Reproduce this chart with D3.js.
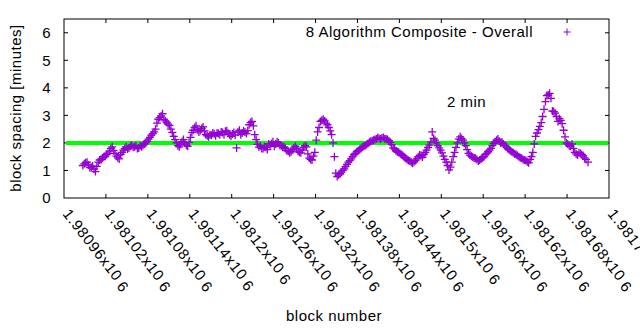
<!DOCTYPE html>
<html>
<head>
<meta charset="utf-8">
<script src="https://cdn.jsdelivr.net/npm/d3@7"></script>
<style>
  body { margin: 0; background: #fff; }
  svg { display: block; font-family: "Liberation Sans", Arial, sans-serif; }
  .tick-text { font-size: 15px; letter-spacing: 0.8px; fill: #000; }
  .label { font-size: 15px; letter-spacing: 0.5px; fill: #000; }
</style>
</head>
<body>
<div id="js_chart"></div>
<script>

//////////////////////////////////////////////////////////////////////////////
// Data
//

var seriesName = "8 Algorithm Composite - Overall";
var targetMinutes = 2;
var targetLabel = "2 min";

// every 4th block
var blockNumbers = [
  1980987, 1980991, 1980995, 1980999, 1981003, 1981007, 1981011, 1981015, 1981019, 1981023,
  1981027, 1981031, 1981035, 1981039, 1981043, 1981047, 1981051, 1981055, 1981059, 1981063,
  1981067, 1981071, 1981075, 1981079, 1981083, 1981087, 1981091, 1981095, 1981099, 1981103,
  1981107, 1981111, 1981115, 1981119, 1981123, 1981127, 1981131, 1981135, 1981139, 1981143,
  1981147, 1981151, 1981155, 1981159, 1981163, 1981167, 1981171, 1981175, 1981179, 1981183,
  1981187, 1981191, 1981195, 1981199, 1981203, 1981207, 1981211, 1981215, 1981219, 1981223,
  1981227, 1981231, 1981235, 1981239, 1981243, 1981247, 1981251, 1981255, 1981259, 1981263,
  1981267, 1981271, 1981275, 1981279, 1981283, 1981287, 1981291, 1981295, 1981299, 1981303,
  1981307, 1981311, 1981315, 1981319, 1981323, 1981327, 1981331, 1981335, 1981339, 1981343,
  1981347, 1981351, 1981355, 1981359, 1981363, 1981367, 1981371, 1981375, 1981379, 1981383,
  1981387, 1981391, 1981395, 1981399, 1981403, 1981407, 1981411, 1981415, 1981419, 1981423,
  1981427, 1981431, 1981435, 1981439, 1981443, 1981447, 1981451, 1981455, 1981459, 1981463,
  1981467, 1981471, 1981475, 1981479, 1981483, 1981487, 1981491, 1981495, 1981499, 1981503,
  1981507, 1981511, 1981515, 1981519, 1981523, 1981527, 1981531, 1981535, 1981539, 1981543,
  1981547, 1981551, 1981555, 1981559, 1981563, 1981567, 1981571, 1981575, 1981579, 1981583,
  1981587, 1981591, 1981595, 1981599, 1981603, 1981607, 1981611, 1981615, 1981619, 1981623,
  1981627, 1981631, 1981635, 1981639, 1981643, 1981647, 1981651, 1981655, 1981659, 1981663,
  1981667, 1981671, 1981675, 1981679, 1981683, 1981687, 1981691, 1981695, 1981699, 1981703,
  1981707, 1981710
];

var spacingMinutes = [
  1.18, 1.28, 1.20, 1.12, 1.05, 1.15, 1.38, 1.45, 1.52, 1.62,
  1.80, 1.72, 1.52, 1.42, 1.66, 1.80, 1.78, 1.88, 1.84, 1.90,
  1.82, 1.86, 1.96, 2.06, 2.20, 2.34, 2.50, 2.86, 2.98, 2.85,
  2.74, 2.64, 2.38, 2.12, 1.90, 1.95, 2.12, 1.92, 2.02, 2.38,
  2.56, 2.48, 2.45, 2.58, 2.30, 2.22, 2.28, 2.33, 2.36, 2.30,
  2.38, 2.42, 2.35, 2.24, 2.38, 1.82, 2.46, 2.36, 2.40, 2.45,
  2.74, 2.62, 2.12, 1.85, 1.80, 1.86, 1.76, 1.90, 2.04, 1.96,
  2.00, 1.90, 1.86, 1.72, 1.64, 1.76, 1.88, 1.70, 1.64, 1.84,
  1.86, 1.45, 1.38, 1.66, 2.40, 2.78, 2.86, 2.72, 2.56, 2.30,
  1.50, 0.78, 0.88, 1.00, 1.14, 1.30, 1.42, 1.58, 1.68, 1.76,
  1.84, 1.90, 1.98, 2.06, 2.10, 2.14, 2.16, 2.18, 2.15, 2.12,
  2.02, 1.82, 1.72, 1.66, 1.58, 1.48, 1.40, 1.34, 1.26, 1.36,
  1.50, 1.54, 1.58, 1.74, 1.92, 2.40, 2.10, 1.90, 1.74, 1.52,
  1.30, 1.02, 1.30, 1.66, 2.00, 2.22, 2.10, 1.90, 1.62, 1.52,
  1.46, 1.40, 1.38, 1.46, 1.58, 1.68, 1.80, 1.98, 2.10, 2.06,
  2.02, 1.90, 1.80, 1.72, 1.64, 1.58, 1.50, 1.44, 1.38, 1.32,
  1.40, 1.66, 2.24, 2.48, 2.74, 3.22, 3.72, 3.80, 3.16, 3.08,
  2.78, 2.82, 2.46, 2.00, 1.90, 1.96, 1.66, 1.56, 1.62, 1.54,
  1.40, 1.30
];

// the blocks in between
var blockNumbers2 = [
  1980989, 1980993, 1980997, 1981001, 1981005, 1981009, 1981013, 1981017, 1981021, 1981025,
  1981029, 1981033, 1981037, 1981041, 1981045, 1981049, 1981053, 1981057, 1981061, 1981065,
  1981069, 1981073, 1981077, 1981081, 1981085, 1981089, 1981093, 1981097, 1981101, 1981105,
  1981109, 1981113, 1981117, 1981121, 1981125, 1981129, 1981133, 1981137, 1981141, 1981145,
  1981149, 1981153, 1981157, 1981161, 1981165, 1981169, 1981173, 1981177, 1981181, 1981185,
  1981189, 1981193, 1981197, 1981201, 1981205, 1981209, 1981213, 1981217, 1981221, 1981225,
  1981229, 1981233, 1981237, 1981241, 1981245, 1981249, 1981253, 1981257, 1981261, 1981265,
  1981269, 1981273, 1981277, 1981281, 1981285, 1981289, 1981293, 1981297, 1981301, 1981305,
  1981309, 1981313, 1981317, 1981321, 1981325, 1981329, 1981333, 1981337, 1981341, 1981345,
  1981349, 1981353, 1981357, 1981361, 1981365, 1981369, 1981373, 1981377, 1981381, 1981385,
  1981389, 1981393, 1981397, 1981401, 1981405, 1981409, 1981413, 1981417, 1981421, 1981425,
  1981429, 1981433, 1981437, 1981441, 1981445, 1981449, 1981453, 1981457, 1981461, 1981465,
  1981469, 1981473, 1981477, 1981481, 1981485, 1981489, 1981493, 1981497, 1981501, 1981505,
  1981509, 1981513, 1981517, 1981521, 1981525, 1981529, 1981533, 1981537, 1981541, 1981545,
  1981549, 1981553, 1981557, 1981561, 1981565, 1981569, 1981573, 1981577, 1981581, 1981585,
  1981589, 1981593, 1981597, 1981601, 1981605, 1981609, 1981613, 1981617, 1981621, 1981625,
  1981629, 1981633, 1981637, 1981641, 1981645, 1981649, 1981653, 1981657, 1981661, 1981665,
  1981669, 1981673, 1981677, 1981681, 1981685, 1981689, 1981693, 1981697, 1981701, 1981705
];

var spacingMinutes2 = [
  1.24, 1.30, 1.10, 1.16, 0.96, 1.30, 1.40, 1.50, 1.58, 1.70,
  1.86, 1.62, 1.46, 1.58, 1.74, 1.86, 1.82, 1.92, 1.86, 1.80,
  1.90, 1.92, 2.00, 2.14, 2.28, 2.40, 2.72, 2.92, 3.06, 2.80,
  2.68, 2.50, 2.24, 2.00, 1.86, 2.05, 2.00, 1.88, 2.20, 2.46,
  2.62, 2.40, 2.52, 2.44, 2.26, 2.30, 2.36, 2.26, 2.34, 2.40,
  2.30, 2.44, 2.30, 2.32, 2.28, 2.40, 2.30, 2.44, 2.34, 2.66,
  2.78, 2.30, 1.95, 1.90, 1.80, 1.84, 1.96, 1.98, 1.88, 2.04,
  1.92, 1.84, 1.80, 1.70, 1.68, 1.82, 1.80, 1.66, 1.74, 1.90,
  1.60, 1.40, 1.52, 2.10, 2.56, 2.82, 2.80, 2.66, 2.44, 2.00,
  0.90, 0.84, 0.94, 1.06, 1.22, 1.36, 1.50, 1.62, 1.72, 1.80,
  1.88, 1.94, 2.02, 2.08, 2.12, 2.20, 2.14, 2.20, 2.14, 2.08,
  1.94, 1.78, 1.68, 1.62, 1.54, 1.44, 1.36, 1.30, 1.32, 1.42,
  1.56, 1.48, 1.66, 1.84, 2.04, 2.16, 2.00, 1.82, 1.64, 1.40,
  1.18, 1.12, 1.50, 1.84, 2.14, 2.16, 2.00, 1.76, 1.56, 1.48,
  1.44, 1.34, 1.42, 1.50, 1.62, 1.74, 1.90, 2.04, 2.14, 2.00,
  1.96, 1.86, 1.76, 1.68, 1.60, 1.54, 1.46, 1.40, 1.36, 1.28,
  1.50, 1.96, 2.36, 2.60, 2.96, 3.50, 3.74, 3.62, 3.14, 2.96,
  2.88, 2.70, 2.22, 1.96, 1.88, 1.80, 1.60, 1.64, 1.58, 1.46
];

var xTickValues = [1980960, 1981020, 1981080, 1981140, 1981200, 1981260, 1981320,
                   1981380, 1981440, 1981500, 1981560, 1981620, 1981680, 1981740];
var xTickLabels = ["1.98096", "1.98102", "1.98108", "1.98114", "1.9812", "1.98126", "1.98132",
                   "1.98138", "1.98144", "1.9815", "1.98156", "1.98162", "1.98168", "1.98174"];
var yTickValues = [0, 1, 2, 3, 4, 5, 6];

//////////////////////////////////////////////////////////////////////////////
// Drawing
//

var width = 640, height = 330;
// plot box (note: "top" is taken by window.top, so use plotTop)
var plotLeft = 64, plotRight = 609, plotTop = 19, plotBottom = 198;
var tickLen = 4;
var pointColor = "#9400d3";

var svg = d3.select("#js_chart").append("svg")
  .attr("width", width)
  .attr("height", height);

var x = d3.scaleLinear().domain([1980960, 1981740]).range([plotLeft, plotRight]);
var y = d3.scaleLinear().domain([0, 6.5]).range([plotBottom, plotTop]);

// ticks, mirrored on all four sides like gnuplot does
xTickValues.forEach(function (v, i) {
    var px = x(v);
    if (i > 0 && i < xTickValues.length - 1) {
        svg.append("line").attr("x1", px).attr("x2", px)
          .attr("y1", plotBottom).attr("y2", plotBottom - tickLen).attr("stroke", "#000");
        svg.append("line").attr("x1", px).attr("x2", px)
          .attr("y1", plotTop).attr("y2", plotTop + tickLen).attr("stroke", "#000");
    }
    var t = svg.append("text")
      .attr("class", "tick-text")
      .attr("transform", "translate(" + (px - 2) + "," + (plotBottom + 16) + ") rotate(52)");
    t.append("tspan").text(xTickLabels[i] + "x10");
    t.append("tspan").attr("dx", 4).attr("dy", 2).text("6");
});

yTickValues.forEach(function (v) {
    var py = y(v);
    if (v > 0) {
        svg.append("line").attr("x1", plotLeft).attr("x2", plotLeft + tickLen)
          .attr("y1", py).attr("y2", py).attr("stroke", "#000");
        svg.append("line").attr("x1", plotRight).attr("x2", plotRight - tickLen)
          .attr("y1", py).attr("y2", py).attr("stroke", "#000");
    }
    svg.append("text")
      .attr("class", "label")
      .attr("x", plotLeft - 13)
      .attr("y", py)
      .attr("dy", "0.36em")
      .attr("text-anchor", "end")
      .text(v);
});

// 2 minute target line
svg.append("line")
  .attr("x1", x(1980960) + 2).attr("x2", x(1981740) - 1)
  .attr("y1", y(targetMinutes)).attr("y2", y(targetMinutes))
  .attr("stroke", "#00ff00")
  .attr("stroke-width", 4);

// points
var pts = blockNumbers.map(function (b, i) { return [x(b), y(spacingMinutes[i])]; })
  .concat(blockNumbers2.map(function (b, i) { return [x(b), y(spacingMinutes2[i])]; }));
var s = 4;
svg.append("g").selectAll("path").data(pts).enter().append("path")
  .attr("d", function (d) {
      return "M" + (d[0] - s) + "," + d[1] + "H" + (d[0] + s) +
             "M" + d[0] + "," + (d[1] - s) + "V" + (d[1] + s);
  })
  .attr("stroke", pointColor)
  .attr("stroke-width", 1.3)
  .attr("fill", "none");

// border box
svg.append("rect")
  .attr("x", plotLeft).attr("y", plotTop)
  .attr("width", plotRight - plotLeft).attr("height", plotBottom - plotTop)
  .attr("fill", "none").attr("stroke", "#000").attr("stroke-width", 1);

// legend
svg.append("text")
  .attr("class", "label")
  .attr("x", 533).attr("y", 37)
  .attr("text-anchor", "end")
  .text(seriesName);
svg.append("path")
  .attr("d", "M" + (567 - 3.5) + ",32H" + (567 + 3.5) + "M567," + (32 - 3.5) + "V" + (32 + 3.5))
  .attr("stroke", pointColor).attr("stroke-width", 1);

svg.append("text")
  .attr("class", "label")
  .attr("x", 447).attr("y", 107)
  .text(targetLabel);

// axis titles
svg.append("text")
  .attr("class", "label")
  .attr("transform", "translate(21,108) rotate(-90)")
  .attr("text-anchor", "middle")
  .text("block spacing [minutes]");

svg.append("text")
  .attr("class", "label")
  .attr("x", 334).attr("y", 321)
  .attr("text-anchor", "middle")
  .text("block number");

</script>
</body>
</html>
